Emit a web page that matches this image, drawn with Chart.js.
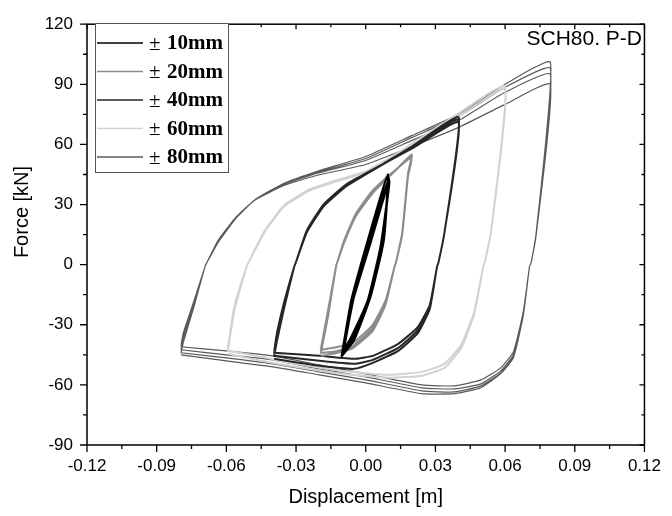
<!DOCTYPE html>
<html>
<head>
<meta charset="utf-8">
<script src="https://cdn.jsdelivr.net/npm/chart.js@4.4.1/dist/chart.umd.min.js"></script>
<style>
  html, body { margin: 0; padding: 0; background: #fff; }
</style>
</head>
<body>
<canvas id="pdChart" width="672" height="516"></canvas>
<script>
// tick labels
const xTicks = [-0.12, -0.09, -0.06, -0.03, 0.00, 0.03, 0.06, 0.09, 0.12];
const yTicks = [-90, -60, -30, 0, 30, 60, 90, 120];

// legend / series names
const amplitudes = ['10mm', '20mm', '40mm', '60mm', '80mm'];

// +-10mm loop (displacement m, force kN), three cycles
const x10a = [-0.0099, -0.0078, -0.0056, 0.0014, 0.0099, 0.0071, 0.0014, -0.0056, -0.0099];
const y10a = [-44, -30, -17, 11, 43, 11, -17, -36.5, -44];
const x10b = [-0.0103, -0.0082, -0.0061, 0.0008, 0.0095, 0.0077, 0.0020, -0.0050, -0.0103];
const y10b = [-45.5, -31, -17.5, 11.5, 45, 12, -16, -37.5, -45.5];
const x10c = [-0.0096, -0.0074, -0.0051, 0.0019, 0.0101, 0.0066, 0.0009, -0.0061, -0.0096];
const y10c = [-43, -29, -16, 10.5, 42, 10, -18, -36, -43];

// +-20mm loop
const x20 = [-0.0193, -0.0161, -0.0128, -0.0123, -0.0093, -0.0042, 0.003, 0.0115, 0.0198, 0.0182, 0.0157, 0.013, 0.0124, 0.0085, 0.003, -0.0055, -0.014, -0.0193];
const y20a = [-42, -22, -1, 1, 12, 25.5, 37, 46, 53.5, 44, 15, 1, -1, -18, -30, -39, -41.5, -42.5];
const y20b = [-42.5, -23.5, -1, 1, 11.5, 25, 36.5, 45.5, 54.5, 45, 15.5, 1, -1, -19, -31.5, -40.5, -43.5, -44];
const y20c = [-44, -25, -1, 1, 11, 24.3, 35.7, 45.5, 55, 45.5, 16, 1, -1, -20, -33, -41.6, -44.5, -45.5];

// +-40mm loop
const x40 = [-0.0394, -0.0382, -0.0352, -0.0308, -0.0301, -0.0254, -0.0182, -0.0085, 0.0, 0.02, 0.04, 0.0339, 0.0313, 0.0307, 0.0276, 0.0225, 0.014, 0.003, -0.005, -0.02, -0.0394];
const y40a = [-43, -34, -19, -1, 1, 17, 30, 40, 45.5, 58, 71, 16, 1, -1, -20, -31, -39.5, -45.5, -47, -45.5, -44];
const y40b = [-44, -36, -20.5, -1, 1, 16.5, 29.5, 39.5, 45, 58.5, 72.3, 16, 1, -1, -21, -32.5, -41.5, -47.5, -49.5, -48, -45.5];
const y40c = [-45.5, -38, -22, -1, 1, 16, 29, 39, 45, 59, 73.5, 16, 1, -1, -22, -34, -43, -49, -52, -50.5, -47];

// +-60mm loop
const x60 = [-0.0594, -0.0564, -0.0513, -0.0505, -0.0437, -0.0352, -0.0242, -0.0115, 0.0, 0.02, 0.04, 0.06, 0.0539, 0.0512, 0.0506, 0.0466, 0.0411, 0.0339, 0.0242, 0.0098, -0.01, -0.03, -0.045, -0.0594];
const y60a = [-41.5, -20, -1, 1, 16.5, 29.5, 37.5, 42.5, 46.5, 60, 74, 87.5, 16, 1, -1, -24, -40, -49.5, -53.5, -55, -53, -49.5, -46, -43];
const y60b = [-43, -22, -1, 1, 16, 29, 37, 42, 46, 60.5, 75.5, 89, 16, 1, -1, -25, -41.6, -51.5, -55.4, -56.4, -54.5, -51, -48, -44.5];

// +-80mm loop
const x80 = [-0.0795, -0.0785, -0.0742, -0.0692, -0.0684, -0.0636, -0.0564, -0.048, -0.0352, -0.0212, 0.0, 0.02, 0.04, 0.06, 0.0795, 0.0734, 0.0712, 0.0705, 0.0679, 0.0636, 0.0581, 0.0496, 0.0382, 0.0242, 0.0, -0.02, -0.04, -0.06, -0.0795];
const y80a = [-40, -34, -19, -1, 1, 12, 23, 32, 39.5, 44.5, 50, 59, 68.5, 80, 90, 15, 1, -1, -23, -43.5, -51.5, -57.5, -60.5, -60, -54.5, -50, -45.5, -43, -41];
const y80b = [-41, -35.5, -20, -1, 1, 11.5, 22.5, 32, 40, 45.5, 52, 62, 72, 86, 95, 15.5, 1, -1, -24, -45, -53, -59.5, -62, -61.5, -56, -52, -47.5, -45, -42.5];
const y80c = [-42.5, -37, -21, -1, 1, 11, 22.5, 32, 40.5, 46, 53, 63.5, 74, 88.5, 98, 16, 1, -1, -24.5, -46, -54, -60.5, -63.5, -63, -57.5, -53.5, -49.5, -46.5, -44];
const y80d = [-44, -38.6, -22, -1, 1, 11, 22.4, 32.2, 40.6, 46.5, 54, 64.5, 75, 90, 101, 16, 1, -1, -25, -46.5, -54.4, -61.4, -64.4, -64.4, -59, -55, -51, -48, -45];

const seriesColors = ['#000000', '#8c8c8c', '#262626', '#d2d2d2', '#5a5a5a'];
const seriesWidths = [2.5, 2, 2, 2, 1.2];

// join several recorded cycles into one continuous path
function cycles(pairs) {
  let pts = [];
  pairs.forEach(([xs, ys]) => {
    pts = pts.concat(xs.map((x, i) => ({ x: x, y: ys[i] })));
  });
  return pts;
}

const seriesData = [
  cycles([[x10a, y10a], [x10b, y10b], [x10c, y10c]]),
  cycles([[x20, y20a], [x20, y20b], [x20, y20c]]),
  cycles([[x40, y40a], [x40, y40b], [x40, y40c]]),
  cycles([[x60, y60a], [x60, y60b]]),
  cycles([[x80, y80a], [x80, y80b], [x80, y80c], [x80, y80d]])
];

// frame, ticks, titles and legend drawn like the Origin plot
const decorations = {
  id: 'decorations',
  afterDraw(chart) {
    const ctx = chart.ctx;
    const a = chart.chartArea;
    const sx = chart.scales.x, sy = chart.scales.y;
    ctx.save();
    ctx.strokeStyle = '#000';
    ctx.lineWidth = 1.5;
    ctx.strokeRect(a.left, a.top, a.right - a.left, a.bottom - a.top);

    ctx.lineWidth = 1.3;
    ctx.beginPath();
    xTicks.forEach((v, i) => {
      const p = sx.getPixelForValue(v);
      ctx.moveTo(p, a.bottom); ctx.lineTo(p, a.bottom + 7);
      ctx.moveTo(p, a.top); ctx.lineTo(p, a.top + 5);
      if (i < xTicks.length - 1) {
        const m = sx.getPixelForValue((v + xTicks[i + 1]) / 2);
        ctx.moveTo(m, a.bottom); ctx.lineTo(m, a.bottom + 4);
        ctx.moveTo(m, a.top); ctx.lineTo(m, a.top + 3);
      }
    });
    yTicks.forEach((v, i) => {
      const p = sy.getPixelForValue(v);
      ctx.moveTo(a.left, p); ctx.lineTo(a.left - 7, p);
      ctx.moveTo(a.right, p); ctx.lineTo(a.right - 5, p);
      if (i < yTicks.length - 1) {
        const m = sy.getPixelForValue((v + yTicks[i + 1]) / 2);
        ctx.moveTo(a.left, m); ctx.lineTo(a.left - 4, m);
        ctx.moveTo(a.right, m); ctx.lineTo(a.right - 3, m);
      }
    });
    ctx.stroke();

    // axis titles
    ctx.fillStyle = '#000';
    ctx.font = '20px "Liberation Sans", Arial, sans-serif';
    ctx.textAlign = 'center';
    ctx.textBaseline = 'middle';
    ctx.fillText('Displacement [m]', (a.left + a.right) / 2, 497);
    ctx.save();
    ctx.translate(22, 212);
    ctx.rotate(-Math.PI / 2);
    ctx.fillText('Force [kN]', 0, 0);
    ctx.restore();

    // plot label
    ctx.font = '21px "Liberation Sans", Arial, sans-serif';
    ctx.textAlign = 'right';
    ctx.textBaseline = 'alphabetic';
    ctx.fillText('SCH80. P-D', 642, 45);

    // legend box
    ctx.fillStyle = '#fff';
    ctx.fillRect(95.5, 23.5, 133, 149);
    ctx.strokeStyle = '#555';
    ctx.lineWidth = 1;
    ctx.strokeRect(95.5, 23.5, 133, 149);
    const rowY = [43, 71.5, 100, 128.5, 157];
    amplitudes.forEach((lab, i) => {
      ctx.strokeStyle = seriesColors[i];
      ctx.lineWidth = 1.5;
      ctx.beginPath();
      ctx.moveTo(97, rowY[i]); ctx.lineTo(143, rowY[i]);
      ctx.stroke();
      ctx.fillStyle = '#000';
      ctx.textAlign = 'left';
      ctx.textBaseline = 'middle';
      ctx.font = '21px "Liberation Serif", "Times New Roman", serif';
      ctx.fillText('\u00b1', 149, rowY[i] + 1);
      ctx.font = 'bold 21px "Liberation Serif", "Times New Roman", serif';
      ctx.fillText(lab, 167, rowY[i] + 1);
    });
    ctx.restore();
  }
};

new Chart(document.getElementById('pdChart'), {
  type: 'scatter',
  data: {
    datasets: amplitudes.map((lab, i) => ({
      label: '\u00b1 ' + lab,
      data: seriesData[i],
      showLine: true,
      borderColor: seriesColors[i],
      backgroundColor: seriesColors[i],
      borderWidth: seriesWidths[i],
      pointRadius: 0,
      tension: 0.15,
      fill: false
    }))
  },
  options: {
    responsive: false,
    animation: false,
    devicePixelRatio: 1,
    layout: { padding: { top: 19, right: 19, left: 0, bottom: 0 } },
    plugins: {
      legend: { display: false },
      tooltip: { enabled: false },
      title: { display: false }
    },
    scales: {
      x: {
        type: 'linear',
        min: -0.12,
        max: 0.12,
        afterBuildTicks: s => { s.ticks = xTicks.map(v => ({ value: v })); },
        afterFit: s => { s.height = 71; },
        grid: { display: true, drawOnChartArea: false, drawTicks: false, color: 'rgba(0,0,0,0)' },
        border: { display: false },
        ticks: {
          padding: 11,
          color: '#000',
          maxRotation: 0,
          font: { family: '"Liberation Sans", Arial, sans-serif', size: 17 },
          callback: v => (Math.abs(v) < 1e-9 ? 0 : v).toFixed(2)
        }
      },
      y: {
        type: 'linear',
        min: -90,
        max: 120,
        afterBuildTicks: s => { s.ticks = yTicks.map(v => ({ value: v })); },
        afterFit: s => { s.width = 87; },
        grid: { display: true, drawOnChartArea: false, drawTicks: false, color: 'rgba(0,0,0,0)' },
        border: { display: false },
        ticks: {
          padding: 14,
          color: '#000',
          font: { family: '"Liberation Sans", Arial, sans-serif', size: 17 },
          callback: v => String(Math.round(v))
        }
      }
    }
  },
  plugins: [decorations]
});
</script>
</body>
</html>
